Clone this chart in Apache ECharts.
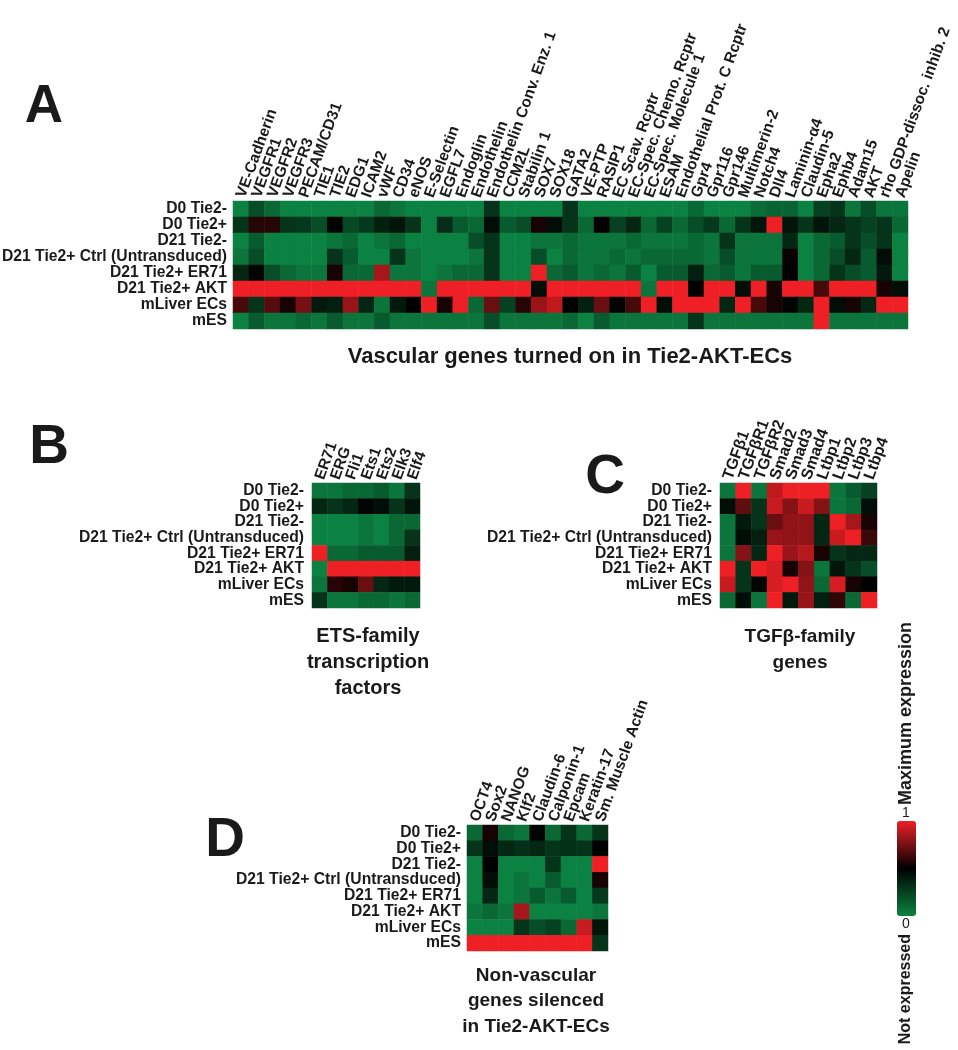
<!DOCTYPE html>
<html><head><meta charset="utf-8">
<style>html,body{margin:0;padding:0;background:#fff}#chart{width:958px;height:1050px}</style>
<script src="https://cdn.jsdelivr.net/npm/echarts@6/dist/echarts.min.js"></script>
</head><body><div id="chart"></div>
<script>
// ---------- data ----------
const rowLabels = ['D0 Tie2-','D0 Tie2+','D21 Tie2-','D21 Tie2+ Ctrl (Untransduced)','D21 Tie2+ ER71','D21 Tie2+ AKT','mLiver ECs','mES'];

const vascularGenes = ['VE-Cadherin','VEGFR1','VEGFR2','VEGFR3','PECAM/CD31','TIE1','TIE2','EDG1','ICAM2','vWF','CD34','eNOS','E-Selectin','EGFL7','Endoglin','Endothelin','Endothelin Conv. Enz. 1','CCM2L','Stabilin 1','SOX7','SOX18','GATA2','VE-PTP','RASIP1','EC Scav. Rcptr','EC-Spec. Chemo. Rcptr','EC-Spec. Molecule 1','ESAM','Endothelial Prot. C Rcptr','Gpr4','Gpr116','Gpr146','Multimerin-2','Notch4','Dll4','Laminin-α4','Claudin-5','Epha2','Ephb4','Adam15','AKT','rho GDP-dissoc. inhib. 2','Apelin'];
const vascularValues = [
 [0,0.2,0.1,0,0,0,0,0,0,0.1,0.05,0,0,0,0,0,0.3,0,0,0,0,0.3,0,0,0,0,0,0,0,0.1,0,0,0,0.08,0.12,0.12,0,0.25,0.3,0.05,0.2,0.05,0.05],
 [0.3,0.58,0.58,0.3,0.28,0.2,0.48,0.22,0.28,0.38,0.42,0.3,0,0.33,0.15,0.1,0.45,0.15,0.2,0.55,0.45,0.3,0.1,0.5,0.25,0.35,0.1,0.25,0.1,0.2,0.28,0.1,0.3,0.42,1,0.42,0.3,0.42,0.35,0.3,0.25,0.3,0.1],
 [0,0.15,0,0,0,0,0.05,0.1,0,0.05,0.1,0,0,0,0,0.2,0.3,0,0,0.05,0.05,0.1,0.05,0.05,0.05,0.1,0.05,0.05,0.05,0.1,0.05,0.3,0.05,0.05,0.05,0.35,0,0.1,0.15,0.3,0.2,0.3,0],
 [0.05,0.2,0,0,0,0,0.3,0.15,0,0,0.3,0.05,0,0,0,0.05,0.3,0,0,0.2,0,0.1,0.05,0.05,0.1,0.05,0.1,0.1,0.1,0.1,0.05,0.2,0.05,0.05,0.05,0.52,0,0.1,0.2,0.35,0.15,0.45,0],
 [0.35,0.48,0.2,0.1,0.05,0.05,0.55,0.1,0.1,0.85,0.05,0.05,0,0.05,0.1,0.1,0.3,0,0,1,0.1,0.15,0.05,0.1,0.05,0.15,0,0.15,0.15,0.38,0.1,0.15,0.05,0.15,0.15,0.5,0,0.1,0.3,0.2,0.15,0.4,0],
 [1,1,1,1,1,1,1,1,1,1,1,1,0.05,1,1,1,1,1,1,0.45,1,1,1,1,1,1,0.05,1,1,0.5,1,1,0.45,1,0.55,1,1,0.65,1,1,1,0.55,0.45],
 [0.65,0.3,0.68,0.55,0.75,0.4,0.38,0.82,0.35,0.05,0.4,0.5,1,0.55,1,0.1,0.72,0.25,0.58,0.82,0.9,0.5,0.38,0.72,0.48,0.65,1,0.45,1,1,1,0.35,1,0.65,0.55,0.48,0.35,1,0.45,0.55,0.35,1,1],
 [0,0.15,0.05,0.05,0.1,0.05,0.15,0.05,0.05,0.15,0.05,0.05,0.05,0.05,0.05,0.05,0.2,0.05,0.05,0.05,0.05,0.1,0,0.15,0.05,0.05,0.05,0.05,0.05,0.3,0.05,0.05,0.05,0.05,0.05,0.05,0.05,1,0.05,0.05,0.05,0.05,0.05]
];

const etsGenes = ['ER71','ERG','Fli1','Ets1','Ets2','Elk3','Elf4'];
const etsValues = [
 [0.05,0.05,0.1,0.1,0.15,0.05,0.3],
 [0.35,0.3,0.35,0.48,0.45,0.3,0.42],
 [0,0,0,0.05,0,0.1,0.1],
 [0,0,0,0.05,0,0.1,0.3],
 [1,0.1,0.1,0.15,0.15,0.15,0.38],
 [0,1,1,1,1,1,1],
 [0.05,0.58,0.55,0.72,0.35,0.4,0.4],
 [0.3,0.05,0.05,0.1,0.1,0.05,0.1]
];

const tgfGenes = ['TGFβ1','TGFβR1','TGFβR2','Smad2','Smad3','Smad4','Ltbp1','Ltbp2','Ltbp3','Ltbp4'];
const tgfValues = [
 [0.05,1,0.05,0.9,1,1,1,0.05,0.15,0.25],
 [0.45,0.7,0.3,0.92,0.78,0.92,0.78,0.05,0.1,0.45],
 [0.05,0.4,0.3,0.72,0.8,0.8,0.35,1,0.85,0.55],
 [0.05,0.45,0.38,0.82,0.8,0.8,0.35,0.92,1,0.62],
 [0.05,0.78,0.35,1,0.82,0.88,0.55,0.3,0.35,0.35],
 [1,0.3,1,0.95,0.55,0.78,0.05,0.42,0.3,0.2],
 [0.92,0.3,0.48,0.95,1,0.8,0.1,0.95,0.55,0.5],
 [0.1,0.45,0.05,1,0.4,0.82,0.38,0.6,0.1,1]
];

const nonVascGenes = ['OCT4','Sox2','NANOG','Klf2','Claudin-6','Calponin-1','Epcam','Keratin-17','Sm. Muscle Actin'];
const nonVascValues = [
 [0.1,0.55,0.1,0.05,0.48,0.1,0.3,0.1,0.3],
 [0.3,0.45,0.35,0.32,0.35,0.3,0.32,0.3,0.5],
 [0,0.5,0,0,0,0.3,0,0,1],
 [0,0.45,0,0.05,0,0.15,0,0,0.55],
 [0,0.35,0,0.05,0.15,0.05,0.15,0,0.28],
 [0.05,0.1,0.05,0.85,0,0,0,0,0.05],
 [0,0,0,0.3,0.2,0.25,0.1,0.92,0.42],
 [1,1,1,1,1,1,1,1,0.3]
];

const panelLetters = ['A','B','C','D'];
const captions = ['Vascular genes turned on in Tie2-AKT-ECs','ETS-family\ntranscription\nfactors','TGFβ-family\ngenes','Non-vascular\ngenes silenced\nin Tie2-AKT-ECs'];
const scaleEnds = ['1','0'];
const scaleTitles = ['Maximum expression','Not expressed'];

// ---------- chart ----------
const FONT = '"Liberation Sans", Arial, Helvetica, sans-serif';
const INK = '#1a1a1a';
const GREEN = '#0c8242', BLACK = '#000000', RED = '#ee2026';

function cells(values){
  const out = [];
  values.forEach((row, r) => row.forEach((v, c) => out.push([c, r, v])));
  return out;
}

const panels = [
  {genes: vascularGenes, values: vascularValues, grid: {left: 233, top: 201, width: 675, height: 128}, xFont: 15.5, rot: -70, yFont: 15.7, yMargin: 6},
  {genes: etsGenes, values: etsValues, grid: {left: 312, top: 483, width: 108, height: 125}, xFont: 15.5, rot: -70, yFont: 15.7, yMargin: 8},
  {genes: tgfGenes, values: tgfValues, grid: {left: 720, top: 483, width: 157, height: 125}, xFont: 16, rot: -70, yFont: 15.7, yMargin: 8},
  {genes: nonVascGenes, values: nonVascValues, grid: {left: 467, top: 825, width: 141, height: 126}, xFont: 15.5, rot: -70, yFont: 15.7, yMargin: 6}
];

const grids = [], xAxes = [], yAxes = [], series = [];
panels.forEach((p, i) => {
  grids.push(Object.assign({outerBoundsMode: 'none', containLabel: false}, p.grid));
  xAxes.push({
    type: 'category', gridIndex: i, data: p.genes, position: 'top',
    axisLine: {show: false}, axisTick: {show: false}, splitLine: {show: false},
    axisLabel: {interval: 0, rotate: p.rot, margin: 4, fontSize: p.xFont, fontWeight: 'bold', fontFamily: FONT, color: INK}
  });
  yAxes.push({
    type: 'category', gridIndex: i, data: rowLabels, inverse: true,
    axisLine: {show: false}, axisTick: {show: false}, splitLine: {show: false},
    axisLabel: {interval: 0, margin: p.yMargin, fontSize: p.yFont, fontWeight: 'bold', fontFamily: FONT, color: INK}
  });
  series.push({
    type: 'heatmap', xAxisIndex: i, yAxisIndex: i, data: cells(p.values),
    itemStyle: {borderWidth: 0}, emphasis: {disabled: true}, silent: true
  });
});

const letterPos = [[44, 107], [49, 448], [605, 478], [225, 841]];
const letterSize = [53, 55, 55, 55];
const captionPos = [[570, 354, 26], [368, 633, 26], [800, 634, 26], [536, 973, 25.5]];
const captionSize = [22, 20, 19, 19];
const graphics = [];
panelLetters.forEach((t, i) => graphics.push({
  type: 'text', x: letterPos[i][0], y: letterPos[i][1], silent: true,
  style: {text: t, font: 'bold ' + letterSize[i] + 'px ' + FONT, fill: INK, textAlign: 'center', textVerticalAlign: 'middle'}
}));
captions.forEach((t, i) => graphics.push({
  type: 'text', x: captionPos[i][0], y: captionPos[i][1] - 10, silent: true,
  style: {text: t, font: 'bold ' + captionSize[i] + 'px ' + FONT, fill: INK, textAlign: 'center', textVerticalAlign: 'top', lineHeight: captionPos[i][2]}
}));
// colour-scale end labels and titles
graphics.push({
  type: 'text', x: 906, y: 813, silent: true,
  style: {text: scaleEnds[0], font: '14px ' + FONT, fill: INK, textAlign: 'center', textVerticalAlign: 'middle'}
});
graphics.push({
  type: 'text', x: 906, y: 924, silent: true,
  style: {text: scaleEnds[1], font: '14px ' + FONT, fill: INK, textAlign: 'center', textVerticalAlign: 'middle'}
});
graphics.push({
  type: 'text', x: 906, y: 805, rotation: Math.PI / 2, silent: true,
  style: {text: scaleTitles[0], font: 'bold 18px ' + FONT, fill: INK, textAlign: 'left', textVerticalAlign: 'middle'}
});
graphics.push({
  type: 'text', x: 906, y: 934, rotation: Math.PI / 2, silent: true,
  style: {text: scaleTitles[1], font: 'bold 16px ' + FONT, fill: INK, textAlign: 'right', textVerticalAlign: 'middle'}
});

const option = {
  backgroundColor: '#ffffff',
  animation: false,
  grid: grids, xAxis: xAxes, yAxis: yAxes, series: series,
  visualMap: {
    type: 'continuous', min: 0, max: 1, calculable: false, orient: 'vertical',
    left: 882, top: 788, itemWidth: 19, itemHeight: 95, text: [' ', ' '], textGap: 4,
    textStyle: {fontSize: 14, fontFamily: FONT, color: INK},
    inRange: {color: [GREEN, BLACK, RED]}, seriesIndex: [0, 1, 2, 3]
  },
  graphic: graphics
};

const chart = echarts.init(document.getElementById('chart'), null, {renderer: 'canvas'});
chart.setOption(option);
</script></body></html>
